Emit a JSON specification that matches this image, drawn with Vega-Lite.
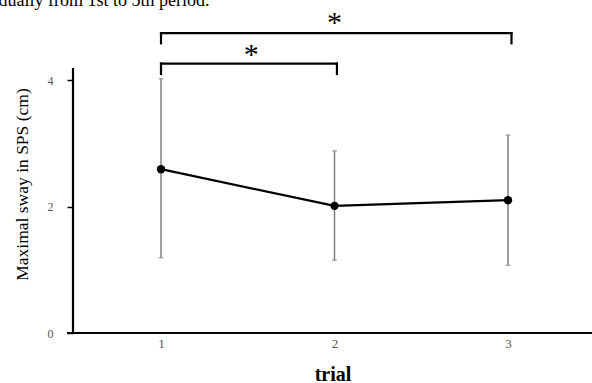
{
  "$schema": "https://vega.github.io/schema/vega-lite/v6.json",
  "width": 519,
  "height": 333,
  "autosize": "none",
  "padding": {"left": 73, "top": 0, "right": 0, "bottom": 50},
  "background": "white",
  "config": {"view": {"stroke": null}, "font": "Liberation Serif"},
  "datasets": {
    "stats": [
      {"trial": 1, "mean": 2.59, "lo": 1.19, "hi": 4.02},
      {"trial": 2, "mean": 2.01, "lo": 1.15, "hi": 2.88},
      {"trial": 3, "mean": 2.10, "lo": 1.07, "hi": 3.13}
    ],
    "segs": [
      {"x": 1, "x2": 2.014, "y": 4.26, "y2": 4.26},
      {"x": 1, "x2": 1, "y": 4.26, "y2": 4.095},
      {"x": 2.014, "x2": 2.014, "y": 4.26, "y2": 4.095},
      {"x": 1, "x2": 3.02, "y": 4.74, "y2": 4.74},
      {"x": 1, "x2": 1, "y": 4.74, "y2": 4.58},
      {"x": 3.02, "x2": 3.02, "y": 4.74, "y2": 4.58}
    ],
    "axes": [
      {"x": 0.458, "x2": 3.49, "y": 0, "y2": 0},
      {"x": 0.4928, "x2": 0.4928, "y": 0, "y2": 4.19}
    ],
    "stars": [
      {"x": 1.52, "y": 4.47, "label": "*"},
      {"x": 2.0, "y": 4.975, "label": "*"}
    ],
    "caption": [
      {"x": 1.28, "y": 5.17, "label": "gradually from 1st to 5th period."}
    ]
  },
  "layer": [
    {
      "data": {"name": "stats"},
      "mark": {"type": "rule", "color": "#808080", "strokeWidth": 1.5},
      "encoding": {
        "x": {"field": "trial", "type": "quantitative", "scale": {"domain": [0.4928, 3.484], "nice": false, "zero": false},
          "axis": {"values": [1, 2, 3], "format": "d", "domain": false, "ticks": false, "grid": false, "title": "trial", "titleFont": "Liberation Serif", "titleFontSize": 20, "titleFontWeight": "bold", "titleColor": "black", "titlePadding": 14, "labelFont": "Liberation Serif", "labelFontSize": 13, "labelColor": "#555555", "labelPadding": 4}},
        "y": {"field": "lo", "type": "quantitative", "scale": {"domain": [0, 5.265], "nice": false},
          "axis": {"values": [0, 2, 4], "format": "d", "domain": false, "grid": false, "ticks": true, "tickSize": 6, "tickColor": "black", "tickWidth": 1.5, "title": "Maximal sway in SPS (cm)", "titleFont": "Liberation Serif", "titleFontSize": 17.5, "titleFontWeight": "normal", "titleColor": "black", "titleY": 184, "titleAnchor": null, "titlePadding": 16, "labelFont": "Liberation Serif", "labelFontSize": 12, "labelColor": "#555555", "labelPadding": 14}},
        "y2": {"field": "hi"}
      }
    },
    {
      "data": {"name": "stats"},
      "mark": {"type": "tick", "orient": "horizontal", "color": "#808080", "size": 5, "thickness": 1.2},
      "encoding": {
        "x": {"field": "trial", "type": "quantitative"},
        "y": {"field": "lo", "type": "quantitative"}
      }
    },
    {
      "data": {"name": "stats"},
      "mark": {"type": "tick", "orient": "horizontal", "color": "#808080", "size": 5, "thickness": 1.2},
      "encoding": {
        "x": {"field": "trial", "type": "quantitative"},
        "y": {"field": "hi", "type": "quantitative"}
      }
    },
    {
      "data": {"name": "stats"},
      "mark": {"type": "line", "color": "black", "strokeWidth": 2.2},
      "encoding": {
        "x": {"field": "trial", "type": "quantitative"},
        "y": {"field": "mean", "type": "quantitative"}
      }
    },
    {
      "data": {"name": "stats"},
      "mark": {"type": "circle", "color": "black", "opacity": 1, "size": 70},
      "encoding": {
        "x": {"field": "trial", "type": "quantitative"},
        "y": {"field": "mean", "type": "quantitative"}
      }
    },
    {
      "data": {"name": "segs"},
      "mark": {"type": "rule", "color": "black", "strokeWidth": 2.2, "strokeCap": "square"},
      "encoding": {
        "x": {"field": "x", "type": "quantitative"},
        "x2": {"field": "x2"},
        "y": {"field": "y", "type": "quantitative"},
        "y2": {"field": "y2"}
      }
    },
    {
      "data": {"name": "axes"},
      "mark": {"type": "rule", "color": "black", "strokeWidth": 2.2, "clip": false},
      "encoding": {
        "x": {"field": "x", "type": "quantitative"},
        "x2": {"field": "x2"},
        "y": {"field": "y", "type": "quantitative"},
        "y2": {"field": "y2"}
      }
    },
    {
      "data": {"name": "stars"},
      "mark": {"type": "text", "font": "Liberation Serif", "fontSize": 30, "baseline": "middle", "align": "center", "dy": 5, "color": "black"},
      "encoding": {
        "x": {"field": "x", "type": "quantitative"},
        "y": {"field": "y", "type": "quantitative"},
        "text": {"field": "label"}
      }
    },
    {
      "data": {"name": "caption"},
      "mark": {"type": "text", "font": "Liberation Serif", "fontSize": 18, "baseline": "alphabetic", "align": "right", "color": "black"},
      "encoding": {
        "x": {"field": "x", "type": "quantitative"},
        "y": {"field": "y", "type": "quantitative"},
        "text": {"field": "label"}
      }
    }
  ]
}
